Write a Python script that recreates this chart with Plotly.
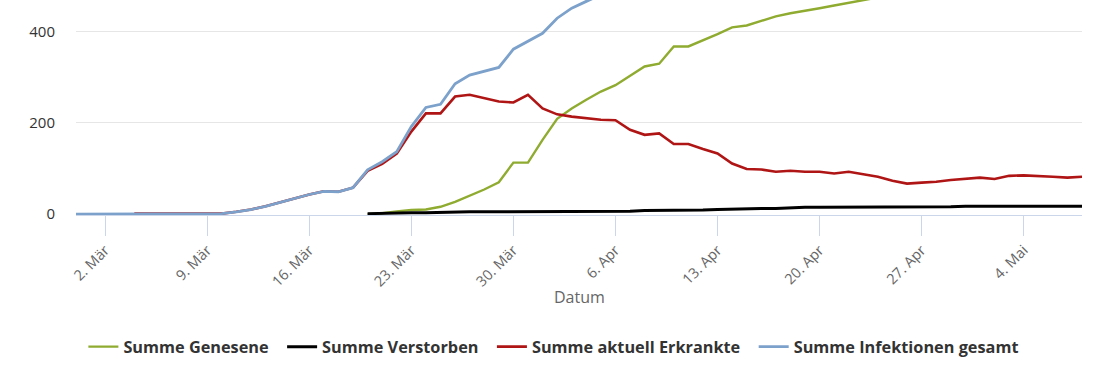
import pandas as pd
import plotly.graph_objects as go

# Dates: 29 Feb 2020 .. 8 May 2020 (daily)
dates = pd.date_range("2020-02-29", "2020-05-08", freq="D")

genesene = (
    [None] * 20
    + [0, 2, 6, 9, 10, 16, 27, 40, 54, 70, 113, 113]
    + [163, 209, 232, 251, 269, 283, 303, 324, 330, 368]
    + [368, 381, 395, 410, 414, 424, 434, 441, 446, 452]
    + [458, 464, 470, 477, 483, 489, 494, 499, 504, 508]
    + [512, 517, 521, 525, 529, 533, 537, 541]
)

verstorben = (
    [None] * 20
    + [1, 2, 2, 3, 3, 4, 4, 5, 5, 5, 6, 6]
    + [6, 6, 6, 6, 6, 6, 6, 8, 8, 8]
    + [9, 9, 10, 11, 11, 12, 12, 14, 15, 15]
    + [15, 15, 15, 15, 15, 16, 16, 16, 16, 17]
    + [17, 17, 17, 17, 17, 17, 17, 17]
)

aktuell = (
    [None] * 4
    + [1, 1, 1, 1, 1, 1, 1]
    + [5, 10, 17, 26, 34, 43, 50, 49, 58, 95]
    + [110, 133, 181, 221, 221, 258, 262, 254, 247, 245, 262]
    + [232, 219, 214, 210, 207, 206, 185, 174, 177, 154]
    + [154, 143, 133, 111, 99, 98, 93, 95, 93, 93]
    + [89, 93, 88, 82, 73, 67, 69, 71, 75, 78]
    + [80, 77, 84, 85, 84, 82, 80, 82]
)

gesamt = (
    [0, 0, 0, 0]
    + [1, 1, 1, 1, 1, 1, 1]
    + [5, 10, 17, 26, 34, 43, 50, 49, 58, 97]
    + [115, 137, 192, 234, 241, 286, 305, 314, 322, 362, 379]
    + [397, 430, 452, 467, 482, 496, 498, 506, 515, 530]
    + [531, 533, 538, 540, 542, 545, 548, 550, 554, 560]
    + [563, 571, 575, 576, 578, 580, 587, 593, 601, 609]
    + [614, 616, 627, 632, 635, 638, 640, 645]
)

tick_dates = ["2020-03-02", "2020-03-09", "2020-03-16", "2020-03-23", "2020-03-30",
              "2020-04-06", "2020-04-13", "2020-04-20", "2020-04-27", "2020-05-04"]
tick_labels = ["2. Mär", "9. Mär", "16. Mär", "23. Mär", "30. Mär",
               "6. Apr", "13. Apr", "20. Apr", "27. Apr", "4. Mai"]

NB = "\u00a0\u00a0"  # small extra gap after legend entries
series = [
    ("Summe Genesene" + NB, genesene, "#8fab30", 2.4),
    ("Summe Verstorben" + NB, verstorben, "#000000", 3),
    ("Summe aktuell Erkrankte" + NB, aktuell, "#b01515", 2.6),
    ("Summe Infektionen gesamt", gesamt, "#7ca1cb", 2.8),
]

fig = go.Figure()
for name, vals, color, w in series:
    fig.add_trace(go.Scatter(
        x=dates, y=vals, name=name, mode="lines",
        line=dict(color=color, width=w),
        connectgaps=False,
    ))

FONT = "Open Sans"
fig.update_layout(
    width=1110, height=370,
    margin=dict(l=76, r=28, t=0, b=155),
    paper_bgcolor="white", plot_bgcolor="white",
    font=dict(family=FONT, color="#333333"),
    showlegend=True,
    legend=dict(
        orientation="h", xref="container", yref="container",
        x=0.499, xanchor="center", y=0.062, yanchor="middle",
        font=dict(family=FONT, size=16.3, color="#333333", weight="bold"),
        traceorder="normal",
    ),
    annotations=[dict(
        text="Datum", xref="paper", yref="paper", x=0.5, y=-82 / 215,
        xanchor="center", yanchor="middle", showarrow=False,
        font=dict(family=FONT, size=16, color="#666666"),
    )],
)
fig.update_xaxes(
    range=[dates[0], dates[-1]],
    tickvals=tick_dates, ticktext=tick_labels,
    tickangle=-45,
    tickfont=dict(family=FONT, size=14.5, color="#666666"),
    ticks="outside", ticklen=20, tickcolor="#ccd6eb", tickwidth=1,
    ticklabelstandoff=0,
    showline=True, linecolor="#ccd6eb", linewidth=1,
    showgrid=False, zeroline=False,
)
fig.update_yaxes(
    range=[-2, 470],
    tickvals=[0, 200, 400],
    tickfont=dict(family=FONT, size=15, color="#333333"),
    ticks="", ticklabelstandoff=20,
    showgrid=True, gridcolor="#e6e6e6", gridwidth=1,
    zeroline=False, showline=False,
)

fig.write_html(
    "out.html",
    config={"displayModeBar": False},
    post_script="document.body.style.margin='0';document.body.style.overflow='hidden';",
)
